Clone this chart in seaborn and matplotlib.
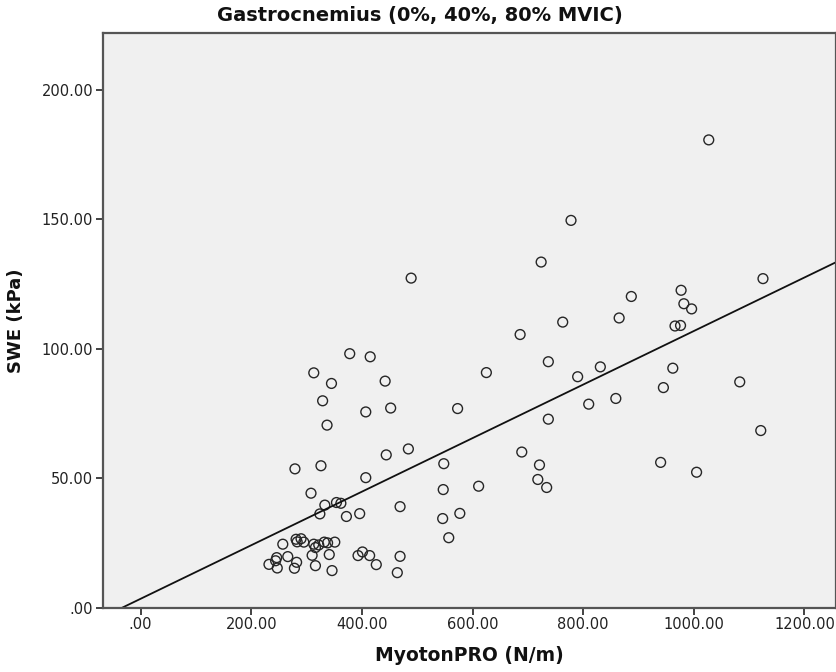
import matplotlib
matplotlib.use("Agg")
import matplotlib.pyplot as plt
from matplotlib.ticker import FuncFormatter
import numpy as np
import pandas as pd
import seaborn as sns

# MyotonPRO stiffness (N/m)
myoton = [
    378, 415, 313, 345, 442, 329, 407, 452, 337, 444,
    279, 326, 407, 308, 333, 354, 362, 324, 372, 396,
    469, 257, 281, 283, 290, 295, 313, 316, 322, 332,
    338, 351, 266, 246, 244, 232, 247, 282, 278, 310,
    316, 341, 346, 393, 401, 414, 426, 469, 464,
    778, 724, 489, 887, 865, 763, 686, 737, 625, 790,
    831, 573, 810, 859, 737, 484, 548, 689, 721, 718,
    734, 940, 547, 611, 546, 577, 557,
    1027, 1125, 977, 982, 996, 966, 976, 962, 945, 1083,
    1121, 1005,
]
# shear wave elastography (kPa)
swe = [
    98.1, 96.9, 90.7, 86.6, 87.5, 79.9, 75.6, 77.1, 70.5, 59.0,
    53.6, 54.8, 50.2, 44.2, 39.6, 40.6, 40.3, 36.2, 35.2, 36.3,
    39.0, 24.5, 26.4, 25.4, 26.6, 25.3, 24.5, 23.2, 24.2, 25.3,
    25.0, 25.3, 19.7, 19.3, 18.1, 16.7, 15.3, 17.5, 15.2, 20.2,
    16.2, 20.5, 14.3, 20.1, 21.5, 20.1, 16.6, 19.8, 13.5,
    149.6, 133.5, 127.3, 120.2, 111.9, 110.3, 105.5, 95.0, 90.8, 89.2,
    93.0, 76.9, 78.6, 80.8, 72.8, 61.3, 55.6, 60.1, 55.1, 49.5,
    46.4, 56.1, 45.6, 46.9, 34.4, 36.4, 27.0,
    180.7, 127.1, 122.6, 117.4, 115.4, 108.8, 109.0, 92.5, 85.0, 87.2,
    68.4, 52.3,
]

x_ticks = [0, 200, 400, 600, 800, 1000, 1200]
y_ticks = [0, 50, 100, 150, 200]

df = pd.DataFrame({"MyotonPRO (N/m)": myoton, "SWE (kPa)": swe})

sns.set_theme(style="white")
plt.rcParams["font.family"] = ["DejaVu Sans"]


def spss_fmt(v, pos):
    s = f"{v:.2f}"
    if s.startswith("0."):
        s = s[1:]
    return s


fig = plt.figure(figsize=(8.36, 6.72), dpi=100)
ax = fig.add_axes([103 / 836, 1 - 607.6 / 672, 1 - 103 / 836, (607.6 - 33) / 672])
ax.set_facecolor("#f0f0f0")
ax.set_xlim(-68, 1257)
ax.set_ylim(0, 222)

sns.scatterplot(
    data=df, x="MyotonPRO (N/m)", y="SWE (kPa)", ax=ax,
    marker="o", s=50, facecolor="none", edgecolor="#262626", linewidth=1.0,
)
# fit line across the whole axis, like SPSS
sns.regplot(
    data=df, x="MyotonPRO (N/m)", y="SWE (kPa)", ax=ax,
    scatter=False, ci=None, truncate=False,
    line_kws={"color": "#111111", "linewidth": 1.3},
)
ax.set_xlim(-68, 1257)
ax.set_ylim(0, 222)

ax.set_xticks(x_ticks)
ax.set_yticks(y_ticks)
ax.xaxis.set_major_formatter(FuncFormatter(spss_fmt))
ax.yaxis.set_major_formatter(FuncFormatter(spss_fmt))
ax.tick_params(axis="both", direction="out", length=5, width=1.2, color="#222222",
               labelsize=10.5, labelcolor="#222222", pad=2)
ax.tick_params(axis="x", bottom=True)
ax.tick_params(axis="y", left=True)

for side, sp in ax.spines.items():
    sp.set_visible(True)
    sp.set_color("#555555")
    sp.set_linewidth(1.6)

ax.set_xlabel("MyotonPRO (N/m)", fontsize=13.5, fontweight="bold", color="#111111", labelpad=10)
ax.set_ylabel("SWE (kPa)", fontsize=13, fontweight="bold", color="#111111", labelpad=12)
fig.text(0.502, 1 - 15 / 672, "Gastrocnemius (0%, 40%, 80% MVIC)", ha="center", va="center",
         fontsize=14, fontweight="bold", color="#111111")

fig.savefig("out.png", dpi=100, facecolor="white")
